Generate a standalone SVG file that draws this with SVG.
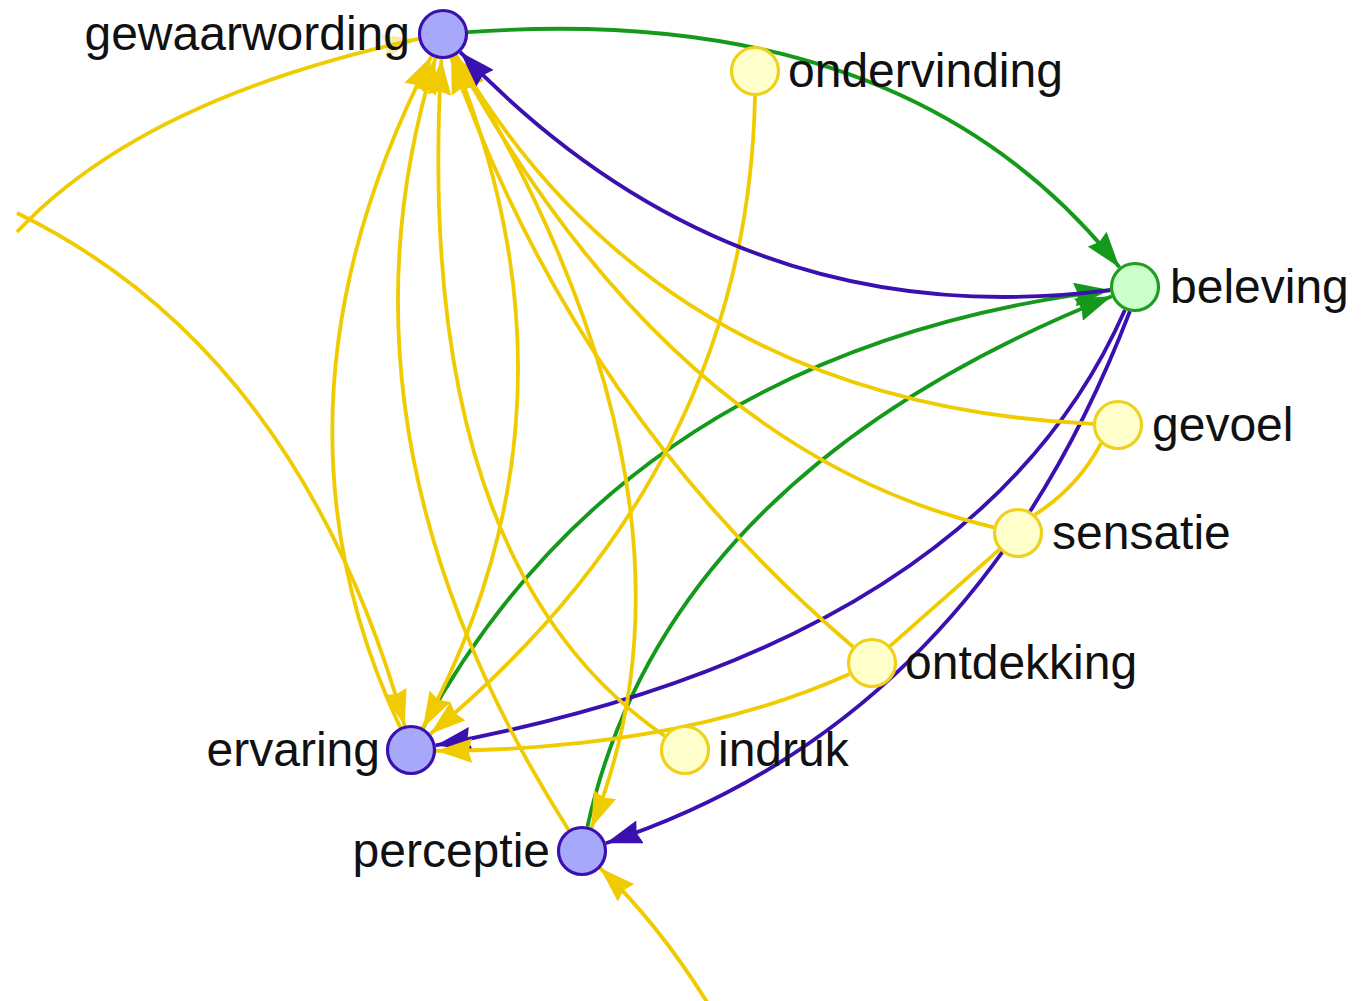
<svg xmlns="http://www.w3.org/2000/svg" width="1365" height="1001" viewBox="0 0 1365 1001">
<style>
.e{fill:none;stroke-width:3.8}
.y{stroke:#EFCB00}
.p{stroke:#3A10B0}
.g{stroke:#14991A}
.ny{fill:#FFFFCC;stroke:#EFD01A;stroke-width:3.2}
.np{fill:#A8A8FA;stroke:#3A10B0;stroke-width:3.2}
.ng{fill:#CCFFCC;stroke:#1E9E1E;stroke-width:3.2}
.lbl{font-family:"Liberation Sans",Arial,sans-serif;font-size:48px;fill:#111111}
</style>
<defs>
<marker id="ay" viewBox="0 0 36 24" refX="36" refY="12" markerWidth="36" markerHeight="24" markerUnits="userSpaceOnUse" orient="auto"><path d="M36,12 L0,0 L3.6,12 L0,24 Z" fill="#EFCB00"/></marker>
<marker id="ayp" viewBox="0 0 36 24" refX="36" refY="12" markerWidth="36" markerHeight="24" markerUnits="userSpaceOnUse" orient="auto"><path d="M36,12 L0,0 L3.6,12 L0,24 Z" fill="#EFCB00" fill-opacity="0.35"/></marker>
<marker id="ap" viewBox="0 0 36 24" refX="36" refY="12" markerWidth="36" markerHeight="24" markerUnits="userSpaceOnUse" orient="auto"><path d="M36,12 L0,0 L3.6,12 L0,24 Z" fill="#3A10B0"/></marker>
<marker id="ag" viewBox="0 0 36 24" refX="36" refY="12" markerWidth="36" markerHeight="24" markerUnits="userSpaceOnUse" orient="auto"><path d="M36,12 L0,0 L3.6,12 L0,24 Z" fill="#14991A"/></marker>
</defs>
<rect width="1365" height="1001" fill="#ffffff"/>
<g id="connectors">
<path class="e g" d="M467.9,32.2 Q908,0 1119.5,267.4" marker-end="url(#ag)"/>
<path class="e g" d="M423,728 Q629,350 1110.2,290.1" marker-end="url(#ag)"/>
<path class="e g" d="M587.4,826.6 Q666,474 1111.8,296.3" marker-end="url(#ag)"/>
<path class="e p" d="M1124.9,309.9 Q977,645 435.6,745.4" marker-end="url(#ap)"/>
<path class="e p" d="M1130,311 Q972,723 605.8,843.2" marker-end="url(#ap)"/>
<path class="e y" d="M17,232 Q142.3,98.5 418.5,38.9" marker-end="url(#ayp)"/>
<path class="e y" d="M17,213 Q299,350.6 404.7,725.8" marker-end="url(#ay)"/>
<path class="e y" d="M400.2,727.4 Q250.2,408.5 431.5,56.2" marker-end="url(#ay)"/>
<path class="e y" d="M568.6,829.9 Q317.9,436 435.5,57.9" marker-end="url(#ay)"/>
<path class="e y" d="M664.4,735.8 Q412,562 441.4,59" marker-end="url(#ay)"/>
<path class="e y" d="M452.5,57.1 Q597,407 422.9,728" marker-end="url(#ay)"/>
<path class="e y" d="M456,55.4 Q725,499 591.4,827.8" marker-end="url(#ay)"/>
<path class="e y" d="M853,646.8 Q574,409 451.2,57.6" marker-end="url(#ay)"/>
<path class="e y" d="M993.7,527.3 Q671,451 455,55.9" marker-end="url(#ay)"/>
<path class="e y" d="M1093,423.9 Q661,404 455.7,55.5" marker-end="url(#ay)"/>
<path class="e y" d="M755,96 C750,350 640,560 430.2,734" marker-end="url(#ay)"/>
<path class="e y" d="M1101,443.4 Q1078,487 1035,514.7"/>
<path class="e y" d="M999.3,549.6 Q940,602 889.7,646.4"/>
<path class="e y" d="M849.5,674 Q680,750 436,750.8" marker-end="url(#ay)"/>
<path class="e y" d="M712,1010 Q660,925 600,868" marker-end="url(#ay)"/>
<path class="e p" d="M1110.2,290.1 Q733,338 460.3,52.1" marker-end="url(#ap)"/>
</g>
<g id="gewaarwording"><circle class="np" cx="443" cy="34" r="23.5"/><text class="lbl" x="410" y="50" text-anchor="end">gewaarwording</text></g>
<g id="ondervinding"><circle class="ny" cx="755" cy="71" r="23.5"/><text class="lbl" x="788" y="87">ondervinding</text></g>
<g id="beleving"><circle class="ng" cx="1135" cy="287" r="23.5"/><text class="lbl" x="1170" y="303">beleving</text></g>
<g id="gevoel"><circle class="ny" cx="1118" cy="425" r="23.5"/><text class="lbl" x="1152" y="441">gevoel</text></g>
<g id="sensatie"><circle class="ny" cx="1018" cy="533" r="23.5"/><text class="lbl" x="1052" y="549">sensatie</text></g>
<g id="ontdekking"><circle class="ny" cx="872" cy="663" r="23.5"/><text class="lbl" x="905" y="679">ontdekking</text></g>
<g id="indruk"><circle class="ny" cx="685" cy="750" r="23.5"/><text class="lbl" x="718" y="766">indruk</text></g>
<g id="ervaring"><circle class="np" cx="411" cy="750" r="23.5"/><text class="lbl" x="380" y="766" text-anchor="end">ervaring</text></g>
<g id="perceptie"><circle class="np" cx="582" cy="851" r="23.5"/><text class="lbl" x="550" y="867" text-anchor="end">perceptie</text></g>
</svg>
